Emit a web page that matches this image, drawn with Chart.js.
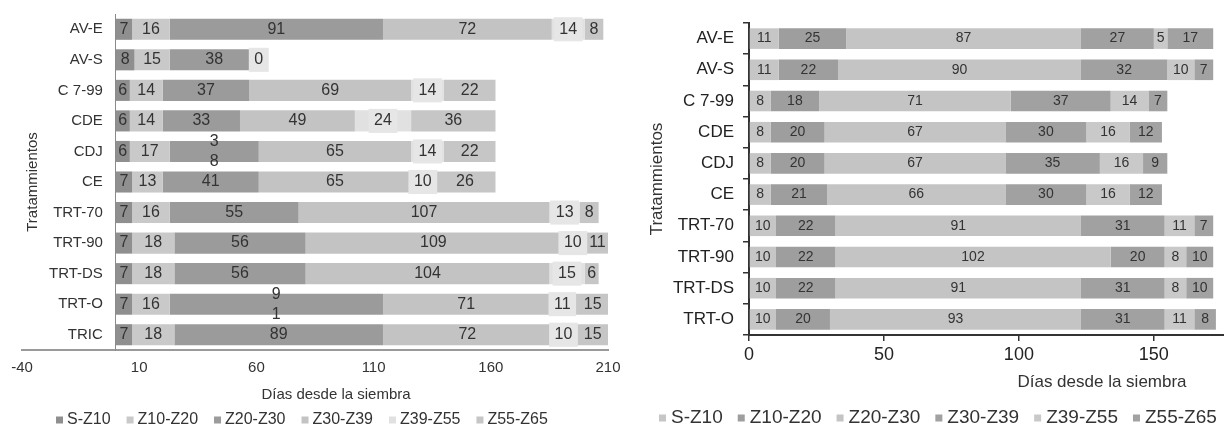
<!DOCTYPE html>
<html>
<head>
<meta charset="utf-8">
<script src="https://cdn.jsdelivr.net/npm/chart.js@4.4.1/dist/chart.umd.min.js"></script>
<style>
  html, body { margin: 0; padding: 0; background: #ffffff; }
  #wrap { position: relative; width: 1224px; height: 426px; overflow: hidden; }
  canvas { position: absolute; top: 0; }
  #left { left: 0; }
  #right { left: 625px; }
</style>
</head>
<body>
<div id="wrap">
  <canvas id="left" width="640" height="426"></canvas>
  <canvas id="right" width="599" height="426"></canvas>
</div>
<script>
// Phenological stages (stacked series, same order in both panels)
const stages = ['S-Z10', 'Z10-Z20', 'Z20-Z30', 'Z30-Z39', 'Z39-Z55', 'Z55-Z65'];

// Left panel: days spent in each stage per treatment
const leftCategories = ['AV-E', 'AV-S', 'C 7-99', 'CDE', 'CDJ', 'CE', 'TRT-70', 'TRT-90', 'TRT-DS', 'TRT-O', 'TRIC'];
const leftSZ10   = [7, 8, 6, 6, 6, 7, 7, 7, 7, 7, 7];
const leftZ10Z20 = [16, 15, 14, 14, 17, 13, 16, 18, 18, 16, 18];
const leftZ20Z30 = [91, 38, 37, 33, 38, 41, 55, 56, 56, 91, 89];
const leftZ30Z39 = [72, null, 69, 49, 65, 65, 107, 109, 104, 71, 72];
const leftZ39Z55 = [14, 0, 14, 24, 14, 10, 13, 10, 15, 11, 10];
const leftZ55Z65 = [8, null, 22, 36, 22, 26, 8, 11, 6, 15, 15];
const leftTicks  = [-40, 10, 60, 110, 160, 210];
// labels printed one digit per line
const leftSplitLabels = [['CDJ', 'Z20-Z30'], ['TRT-O', 'Z20-Z30']];

// Right panel: days spent in each stage per treatment
const rightCategories = ['AV-E', 'AV-S', 'C 7-99', 'CDE', 'CDJ', 'CE', 'TRT-70', 'TRT-90', 'TRT-DS', 'TRT-O'];
const rightSZ10   = [11, 11, 8, 8, 8, 8, 10, 10, 10, 10];
const rightZ10Z20 = [25, 22, 18, 20, 20, 21, 22, 22, 22, 20];
const rightZ20Z30 = [87, 90, 71, 67, 67, 66, 91, 102, 91, 93];
const rightZ30Z39 = [27, 32, 37, 30, 35, 30, 31, 20, 31, 31];
const rightZ39Z55 = [5, 10, 14, 16, 16, 16, 11, 8, 8, 11];
const rightZ55Z65 = [17, 7, 7, 12, 9, 12, 7, 10, 10, 8];
const rightTicks  = [0, 50, 100, 150];

const axisTitleX = 'Días desde la siembra';
const axisTitleY = 'Tratammientos';

const FONT = "'Liberation Sans', Arial, Helvetica, sans-serif";
const leftColors  = ['#8f8f8f', '#c9c9c9', '#9b9b9b', '#c3c3c3', '#e1e1e1', '#c6c6c6'];
const rightColors = ['#c6c6c6', '#9e9e9e', '#c4c4c4', '#a1a1a1', '#c9c9c9', '#a2a2a2'];

function makeDatasets(series, colors, catPct) {
  return stages.map((name, k) => ({
    label: name,
    data: series[k],
    backgroundColor: colors[k],
    borderWidth: 0,
    barPercentage: 1,
    categoryPercentage: catPct
  }));
}

// Writes each segment's value in the middle of its bar
const segmentLabels = {
  id: 'segmentLabels',
  afterDatasetsDraw(chart, args, opts) {
    const ctx = chart.ctx;
    ctx.save();
    ctx.font = opts.font;
    ctx.textAlign = 'center';
    ctx.textBaseline = 'middle';
    chart.data.datasets.forEach((ds, di) => {
      const meta = chart.getDatasetMeta(di);
      meta.data.forEach((bar, i) => {
        const v = ds.data[i];
        if (v === null || v === undefined) return;
        const cx = (bar.x + bar.base) / 2;
        const cy = bar.y;
        const text = String(v);
        const split = (opts.split || []).some(([c, s]) => c === chart.data.labels[i] && s === ds.label);
        const lines = split ? text.split('') : [text];
        if (opts.boxed === ds.label) {
          const w = ctx.measureText(text).width + 11;
          const h = bar.height + 3;
          ctx.fillStyle = opts.boxColor;
          ctx.fillRect(cx - w / 2, cy - h / 2, w, h);
        }
        ctx.fillStyle = opts.color;
        lines.forEach((ln, k) => {
          ctx.fillText(ln, cx, cy + (k - (lines.length - 1) / 2) * opts.lineGap);
        });
      });
    });
    ctx.restore();
  }
};

// Axis titles and legend row
const decor = {
  id: 'decor',
  afterDraw(chart, args, o) {
    const ctx = chart.ctx;
    ctx.save();
    ctx.fillStyle = o.color;
    ctx.textBaseline = 'middle';
    ctx.textAlign = 'center';
    ctx.font = o.titleFont;
    ctx.fillText(axisTitleX, o.xTitle[0], o.xTitle[1]);
    ctx.save();
    ctx.translate(o.yTitle[0], o.yTitle[1]);
    ctx.rotate(-Math.PI / 2);
    ctx.fillText(axisTitleY, 0, 0);
    ctx.restore();
    // legend
    ctx.font = o.legendFont;
    ctx.textAlign = 'left';
    let x = o.legend[0];
    const y = o.legend[1];
    chart.data.datasets.forEach(ds => {
      ctx.fillStyle = ds.backgroundColor;
      ctx.fillRect(x, y - o.box / 2, o.box, o.box);
      ctx.fillStyle = o.color;
      const tx = x + o.box + o.textGap;
      ctx.fillText(ds.label, tx, y);
      x = tx + ctx.measureText(ds.label).width + o.itemGap;
    });
    ctx.restore();
  }
};

new Chart(document.getElementById('left'), {
  type: 'bar',
  data: {
    labels: leftCategories,
    datasets: makeDatasets([leftSZ10, leftZ10Z20, leftZ20Z30, leftZ30Z39, leftZ39Z55, leftZ55Z65], leftColors, 0.69)
  },
  plugins: [segmentLabels, decor],
  options: {
    indexAxis: 'y',
    responsive: false,
    animation: false,
    layout: { padding: { left: 22, right: 32, top: 14, bottom: 0 } },
    plugins: {
      legend: { display: false },
      tooltip: { enabled: false },
      segmentLabels: { font: '16px ' + FONT, color: '#333333', lineGap: 20, split: leftSplitLabels, boxed: 'Z39-Z55', boxColor: '#e6e6e6' },
      decor: {
        color: '#333333', titleFont: '15px ' + FONT, legendFont: '16px ' + FONT,
        xTitle: [336, 395], yTitle: [33, 182], legend: [56, 420], box: 7, textGap: 4, itemGap: 16
      }
    },
    scales: {
      x: {
        type: 'linear', stacked: true, min: -40, max: 210,
        afterBuildTicks: s => { s.ticks = leftTicks.map(v => ({ value: v })); },
        afterFit: s => { s.height = 76; },
        grid: { display: false, drawTicks: false },
        border: { display: true, color: '#9a9a9a', width: 2 },
        ticks: { padding: 9, color: '#333333', font: { family: FONT, size: 15 } }
      },
      // category axis line, crossing the value axis at 0
      y: {
        type: 'category', stacked: true, position: { x: 0 },
        grid: { display: false, drawTicks: false },
        border: { display: true, color: '#8a8a8a', width: 1 },
        ticks: { display: false }
      },
      // treatment names, set a little to the left of the axis line
      yNames: {
        type: 'category', axis: 'y', position: { x: -5.5 },
        grid: { display: false, drawTicks: false },
        border: { display: false },
        ticks: { color: '#333333', font: { family: FONT, size: 15 } }
      }
    }
  }
});

new Chart(document.getElementById('right'), {
  type: 'bar',
  data: {
    labels: rightCategories,
    datasets: makeDatasets([rightSZ10, rightZ10Z20, rightZ20Z30, rightZ30Z39, rightZ39Z55, rightZ55Z65], rightColors, 0.66)
  },
  plugins: [segmentLabels, decor],
  options: {
    indexAxis: 'y',
    responsive: false,
    animation: false,
    layout: { padding: { left: 0, right: 0, top: 23, bottom: 0 } },
    plugins: {
      legend: { display: false },
      tooltip: { enabled: false },
      segmentLabels: { font: '14px ' + FONT, color: '#333333', lineGap: 18 },
      decor: {
        color: '#333333', titleFont: '17px ' + FONT, legendFont: '19px ' + FONT,
        xTitle: [477, 382], yTitle: [32, 179], legend: [34, 418], box: 7, textGap: 5, itemGap: 15
      }
    },
    scales: {
      x: {
        type: 'linear', stacked: true, min: 0, max: 176,
        afterBuildTicks: s => { s.ticks = rightTicks.map(v => ({ value: v })); },
        afterFit: s => { s.height = 91; },
        grid: { display: true, drawOnChartArea: false, drawTicks: true, tickLength: 6, color: '#333333', lineWidth: 1.5 },
        border: { display: true, color: '#333333', width: 2 },
        ticks: { padding: 3, color: '#222222', font: { family: FONT, size: 18 } }
      },
      y: {
        type: 'category', stacked: true, position: 'left',
        afterFit: s => { s.width = 124; },
        grid: { display: true, drawOnChartArea: false, drawTicks: true, tickLength: 6, color: '#333333', lineWidth: 1.5 },
        border: { display: true, color: '#333333', width: 2 },
        ticks: { padding: 9, color: '#222222', font: { family: FONT, size: 17 } }
      }
    }
  }
});
</script>
</body>
</html>
